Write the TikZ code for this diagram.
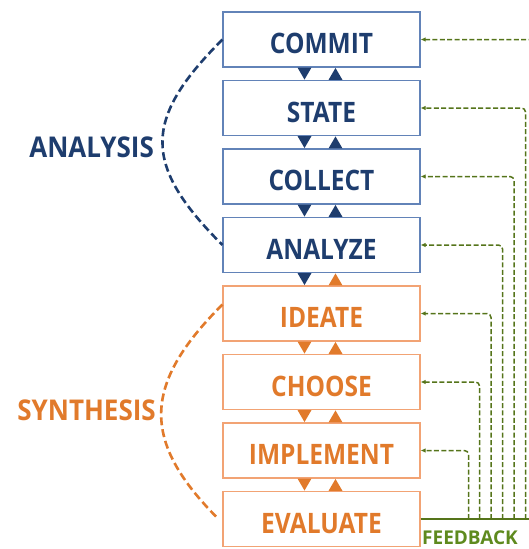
\documentclass[tikz,border=0pt]{standalone}
\usepackage{fontspec}
\setmainfont{Open Sans}
\usetikzlibrary{arrows.meta}
\definecolor{navy}{HTML}{1E3D6E}
\definecolor{bborder}{HTML}{6283B8}
\definecolor{orng}{HTML}{E17A2B}
\definecolor{oborder}{HTML}{F2A374}
\definecolor{fbgreen}{HTML}{55741A}
\definecolor{fbtext}{HTML}{5E8A1E}
\newcommand\boxlbl[1]{\raisebox{-4pt}[\height][0pt]{\scalebox{1}[1.15]{#1}}}
\newcommand\phaselbl[1]{\scalebox{1}[1.1]{#1}}
\begin{document}
\begin{tikzpicture}[x=1pt,y=-1pt,
 stagebox/.style={draw,line width=1.1pt,minimum width=197pt,minimum height=55pt,inner sep=0pt,font=\fontsize{24.5}{24.5}\selectfont\bfseries},
 bbox/.style={stagebox,draw=bborder,text=navy},
 obox/.style={stagebox,draw=oborder,text=orng},
 phase/.style={font=\fontsize{26}{26}\selectfont\bfseries,inner sep=0pt},
 brace/.style={line width=2.6pt,dash pattern=on 8pt off 4pt},
 fb/.style={draw=fbgreen,line width=1.5pt,dash pattern=on 5pt off 2.4pt,rounded corners=4pt,-{Latex[length=5pt,width=4.5pt]}},
]
\useasboundingbox (0,0) rectangle (529,549);
\node[bbox] (commit) at (321.5,39.5) {\boxlbl{COMMIT}};
\node[bbox] (state) at (321.5,108) {\boxlbl{STATE}};
\node[bbox] (collect) at (321.5,176.5) {\boxlbl{COLLECT}};
\node[bbox] (analyze) at (321.5,245) {\boxlbl{ANALYZE}};
\node[obox] (ideate) at (321.5,313.5) {\boxlbl{IDEATE}};
\node[obox] (choose) at (321.5,382) {\boxlbl{CHOOSE}};
\node[obox] (implement) at (321.5,450.5) {\boxlbl{IMPLEMENT}};
\node[obox] (evaluate) at (321.5,519) {\boxlbl{EVALUATE}};

\foreach \a/\b/\ca/\cb in {commit/state/navy/navy, state/collect/navy/navy, collect/analyze/navy/navy, analyze/ideate/navy/orng, ideate/choose/orng/orng, choose/implement/orng/orng, implement/evaluate/orng/orng}{
  \fill[\ca] ([xshift=-24pt]\a.south) -- ++(14,0) -- ++(-7,12) -- cycle;
  \fill[\cb] ([xshift=7pt]\b.north) -- ++(14,0) -- ++(-7,-12) -- cycle;
}

\node[phase,text=navy,anchor=east] (analysis) at (154,147) {\phaselbl{ANALYSIS}};
\node[phase,text=orng,anchor=east] (synthesis) at (156,410) {\phaselbl{SYNTHESIS}};
\draw[navy,brace] (commit.west) .. controls +(-80,80) and +(-80,-80) .. (analyze.west);
\draw[orng,brace] ([yshift=9pt]ideate.west) .. controls +(-79,79) and +(-79,-79) .. ([xshift=-4pt]evaluate.west);

\coordinate (fbend) at (545,519);
\draw[fbgreen,line width=2.2pt] (evaluate.east) -- (fbend);
\foreach \n/\x in {commit/537, state/525.5, collect/514, analyze/502.5, ideate/491, choose/479.5, implement/468.5}{
  \coordinate (f\n) at (\x,519);
  \draw[fb] (f\n) |- (\n.east);
}
\node[text=fbtext,font=\fontsize{19}{19}\selectfont\bfseries,anchor=base west,inner sep=0pt] (feedback) at (422,544.5) {FEEDBACK};
\end{tikzpicture}
\end{document}
